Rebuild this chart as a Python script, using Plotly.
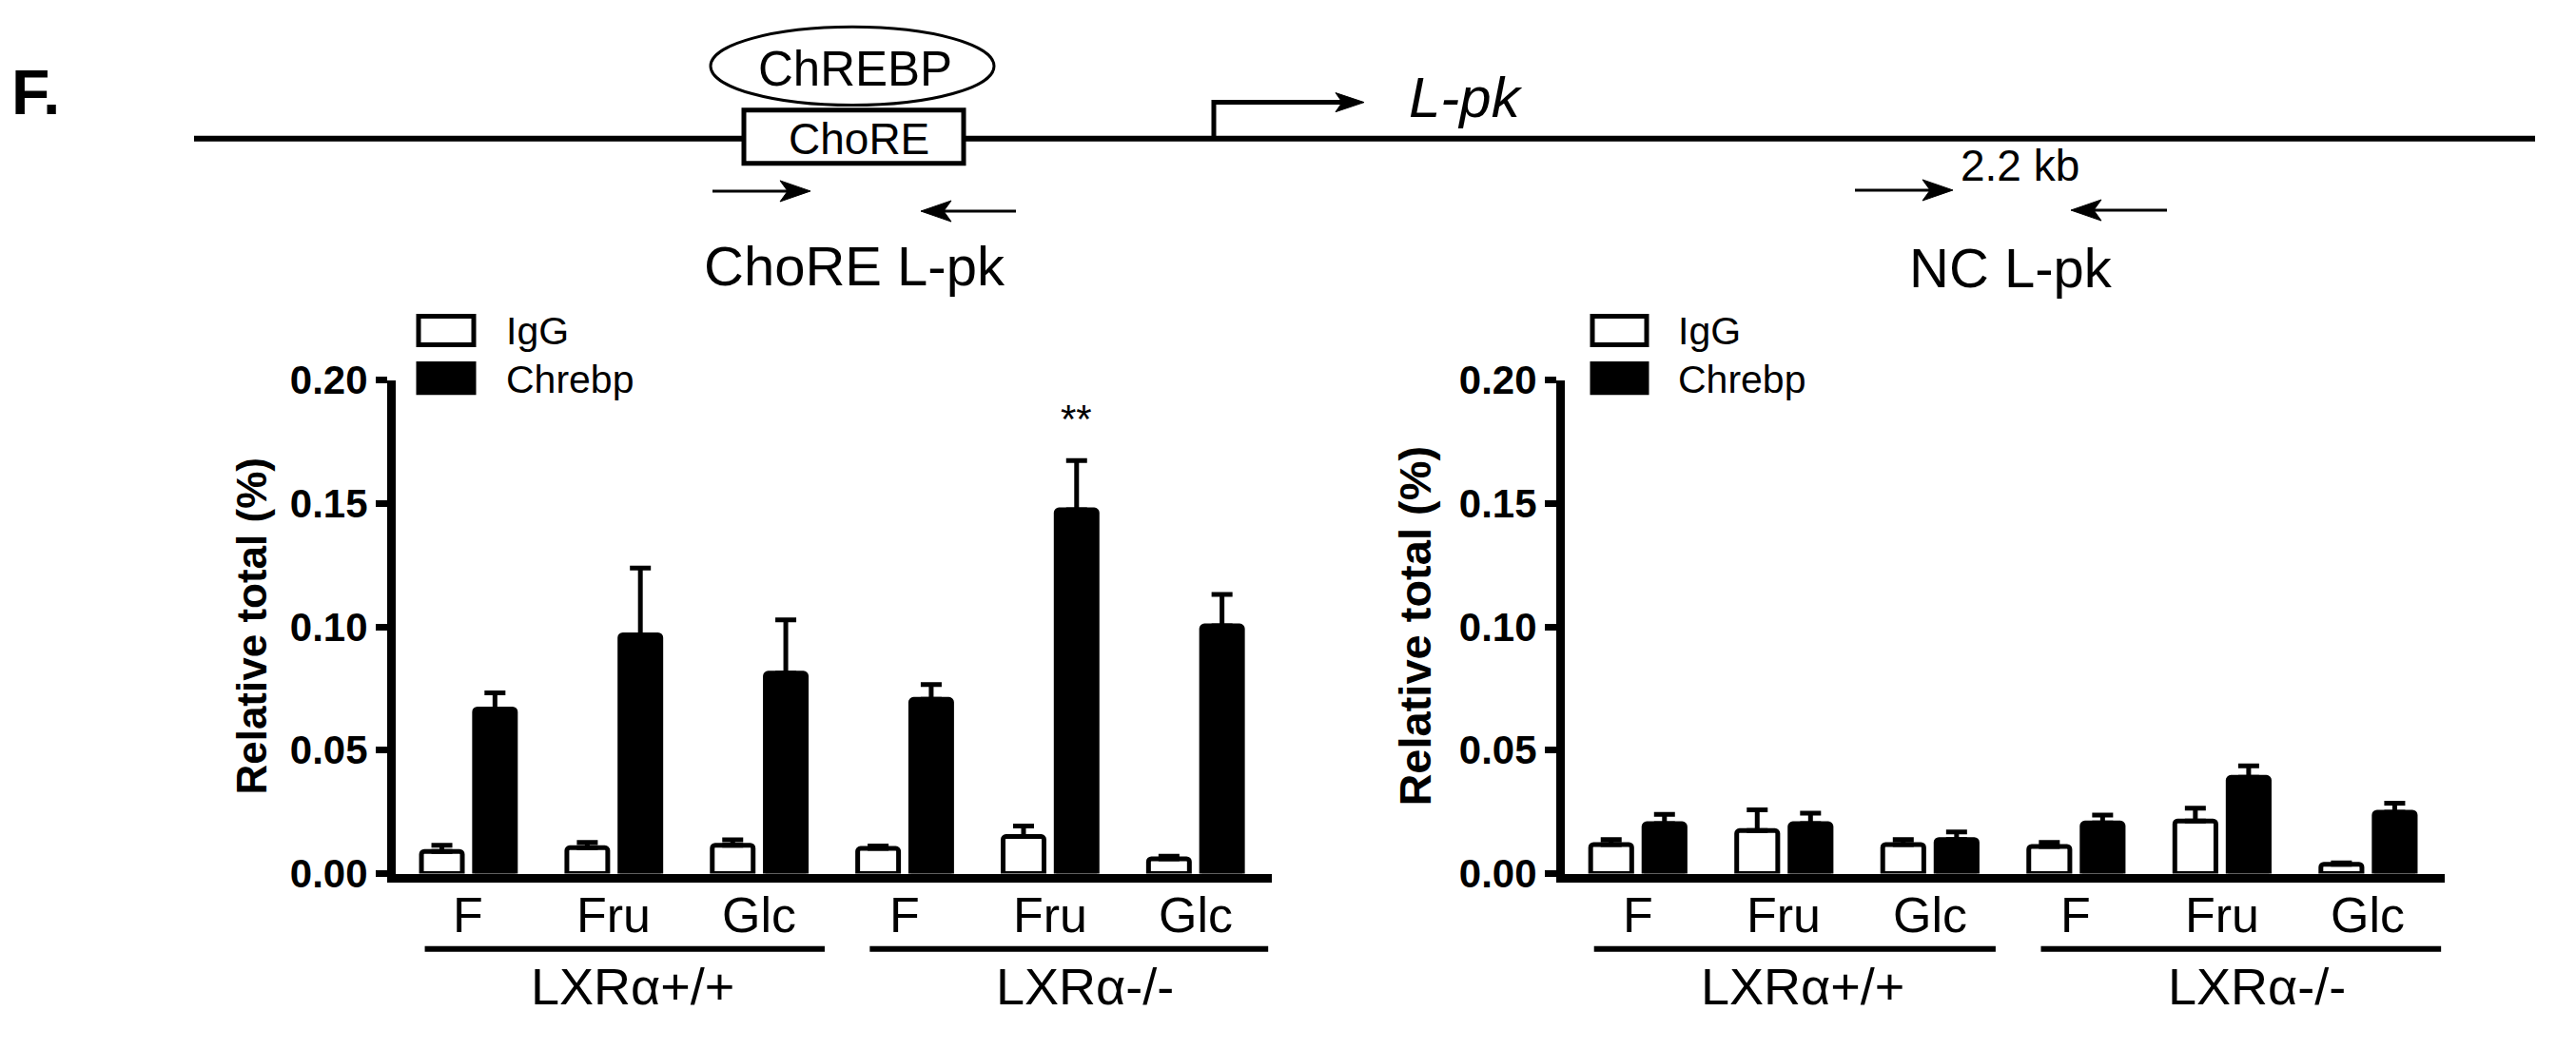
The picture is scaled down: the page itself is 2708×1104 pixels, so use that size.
import plotly.graph_objects as go

W, H = 2708, 1104

# ---------------- data ----------------
sugars = ["F", "Fru", "Glc", "F", "Fru", "Glc"]
genotypes = ["LXRα+/+", "LXRα-/-"]
series_names = ["IgG", "Chrebp"]
panel_titles = ["ChoRE L-pk", "NC L-pk"]
y_ticks = [0.00, 0.05, 0.10, 0.15, 0.20]

chore_igg = [0.0090, 0.0105, 0.0115, 0.0102, 0.0150, 0.0060]
chore_igg_err = [0.0025, 0.0021, 0.0022, 0.0010, 0.0043, 0.0010]
chore_chrebp = [0.0667, 0.0968, 0.0812, 0.0706, 0.1474, 0.1004]
chore_chrebp_err = [0.0065, 0.0270, 0.0216, 0.0060, 0.0200, 0.0127]

nc_igg = [0.0118, 0.0174, 0.0118, 0.0110, 0.0213, 0.0038]
nc_igg_err = [0.0020, 0.0084, 0.0020, 0.0016, 0.0052, 0.0005]
nc_chrebp = [0.0202, 0.0202, 0.0138, 0.0205, 0.0390, 0.0249]
nc_chrebp_err = [0.0038, 0.0043, 0.0031, 0.0032, 0.0047, 0.0036]

signif_text = "**"
signif_index = 4

# ---------------- helpers ----------------
FONT = "Liberation Sans, Arial, Helvetica, sans-serif"
# the photographed page comes out slightly squeezed vertically; compensate
SY, OY = 0.954, 22.7


def fx(p):
    return p / W


def fy(p):
    return 1 - ((p - OY) / SY) / H


fig = go.Figure()
xs = list(range(len(sugars)))

panels = [
    dict(xa="x", ya="y", igg=chore_igg, igge=chore_igg_err, ch=chore_chrebp, che=chore_chrebp_err),
    dict(xa="x2", ya="y2", igg=nc_igg, igge=nc_igg_err, ch=nc_chrebp, che=nc_chrebp_err),
]

for p in panels:
    fig.add_trace(go.Bar(
        x=xs, y=p["igg"], name=series_names[0], xaxis=p["xa"], yaxis=p["ya"],
        marker=dict(color="white", line=dict(color="black", width=5), cornerradius=3),
        error_y=dict(type="data", array=p["igge"], arrayminus=[0] * len(p["igge"]),
                     symmetric=False, color="black", thickness=5, width=11),
        showlegend=False))
    fig.add_trace(go.Bar(
        x=xs, y=p["ch"], name=series_names[1], xaxis=p["xa"], yaxis=p["ya"],
        marker=dict(color="black", line=dict(color="black", width=5), cornerradius=3),
        error_y=dict(type="data", array=p["che"], arrayminus=[0] * len(p["che"]),
                     symmetric=False, color="black", thickness=5, width=11),
        showlegend=False))

x_range = [-0.5, 5.525]
y_dom = [fy(915), fy(398)]

xaxis_common = dict(range=x_range, showline=True, linewidth=9, linecolor="black",
                    tickvals=xs, ticktext=sugars, ticks="", showticklabels=False,
                    showgrid=False, zeroline=False, fixedrange=True)
yaxis_common = dict(range=[0, 0.2], showline=True, linewidth=9, linecolor="black",
                    tickvals=y_ticks, tickformat=".2f", ticks="outside", ticklen=12, tickwidth=7,
                    tickcolor="black",
                    tickfont=dict(size=42, color="black", family=FONT, weight="bold"),
                    showgrid=False, zeroline=False, fixedrange=True, domain=y_dom)

fig.update_layout(
    width=W, height=H, margin=dict(l=0, r=0, t=0, b=0), autosize=False,
    paper_bgcolor="white", plot_bgcolor="white",
    barmode="group", bargap=0.27, bargroupgap=0.23,
    font=dict(family=FONT, color="black"),
    xaxis=dict(domain=[fx(416), fx(1337)], anchor="y", **xaxis_common),
    yaxis=dict(anchor="x", **yaxis_common),
    xaxis2=dict(domain=[fx(1645), fx(2570)], anchor="y2", **xaxis_common),
    yaxis2=dict(anchor="x2", **yaxis_common),
)

shapes = []
annos = []


def text(x, y, s, size, bold=False, italic=False, xanchor="center", angle=0, xref="paper"):
    """x: pixel (paper) or data value (axis ref); y: pixel from top."""
    annos.append(dict(x=fx(x) if xref == "paper" else x, y=fy(y), xref=xref, yref="paper",
                      text=s, showarrow=False,
                      xanchor=xanchor, yanchor="middle", textangle=angle,
                      font=dict(size=size, family=FONT, color="black",
                                weight="bold" if bold else "normal",
                                style="italic" if italic else "normal")))


def hline(x0, x1, y, w):
    shapes.append(dict(type="line", xref="paper", yref="paper", x0=fx(x0), x1=fx(x1),
                       y0=fy(y), y1=fy(y), line=dict(color="black", width=w)))


def arrow(tail, tip, y, lw=3, hl=32, hh=11, notch=8):
    d = 1 if tip > tail else -1
    base = tip - d * hl
    hline(tail, base + d * notch, y, lw)
    path = (f"M {fx(tip)},{fy(y)} L {fx(base)},{fy(y - hh)} "
            f"L {fx(base + d * notch)},{fy(y)} L {fx(base)},{fy(y + hh)} Z")
    shapes.append(dict(type="path", xref="paper", yref="paper", path=path,
                       fillcolor="black", line=dict(color="black", width=1)))


# ---- gene diagram ----
text(10, 96, "F.", 66, bold=True, xanchor="left")
hline(204, 2665, 145, 6)
shapes.append(dict(type="circle", xref="paper", yref="paper", x0=fx(747), x1=fx(1045),
                   y0=fy(110), y1=fy(28), line=dict(color="black", width=3), fillcolor="white"))
shapes.append(dict(type="rect", xref="paper", yref="paper", x0=fx(782), x1=fx(1013),
                   y0=fy(171), y1=fy(115), line=dict(color="black", width=5), fillcolor="white"))
text(899, 72, "ChREBP", 51)
text(903, 145, "ChoRE", 46)
# promoter
shapes.append(dict(type="path", xref="paper", yref="paper",
                   path=f"M {fx(1276)},{fy(145)} L {fx(1276)},{fy(107)} L {fx(1415)},{fy(107)}",
                   line=dict(color="black", width=5)))
shapes.append(dict(type="path", xref="paper", yref="paper",
                   path=(f"M {fx(1434)},{fy(107)} L {fx(1404)},{fy(97)} L {fx(1411)},{fy(107)} "
                         f"L {fx(1404)},{fy(117)} Z"),
                   fillcolor="black", line=dict(color="black", width=1)))
text(1541, 102, "L-pk", 60, italic=True)
# primers
arrow(749, 852, 200)
arrow(1068, 968, 221)
arrow(1950, 2053, 199)
arrow(2278, 2177, 220)
text(2123, 173, "2.2 kb", 46)
text(898, 278, panel_titles[0], 58)
text(2114, 280, panel_titles[1], 58)

# ---- legends ----
for (bx0, bx1, tx) in [(438, 500, 530), (1672, 1733, 1762)]:
    shapes.append(dict(type="rect", xref="paper", yref="paper", x0=fx(bx0 + 2), x1=fx(bx1 - 2),
                       y0=fy(361), y1=fy(331), line=dict(color="black", width=5), fillcolor="white"))
    shapes.append(dict(type="rect", xref="paper", yref="paper", x0=fx(bx0 + 2), x1=fx(bx1 - 2),
                       y0=fy(411), y1=fy(381), line=dict(color="black", width=5), fillcolor="black"))
    text(tx, 347, series_names[0], 41, xanchor="left")
    text(tx, 397, series_names[1], 41, xanchor="left")

# ---- y titles ----
text(265, 656, "Relative total (%)", 44, bold=True, angle=-90)
text(1488, 656, "Relative total (%)", 47, bold=True, angle=-90)

# ---- category labels, genotype underlines & labels ----
for xr in ["x", "x2"]:
    for i, s in zip(xs, sugars):
        text(i, 958, s, 52, xref=xr)
    for (a, b) in [(-0.30, 2.45), (2.76, 5.50)]:
        shapes.append(dict(type="line", xref=xr, yref="paper", x0=a, x1=b, y0=fy(994), y1=fy(994),
                           line=dict(color="black", width=6)))
    for gx, g in zip([1.13, 4.24], genotypes):
        text(gx, 1033, g, 54, xref=xr)

# ---- significance ----
bar_off = (1 - 0.27) / 4
annos.append(dict(x=signif_index + bar_off,
                  y=chore_chrebp[signif_index] + chore_chrebp_err[signif_index] + 0.017,
                  xref="x", yref="y", text=signif_text, showarrow=False,
                  xanchor="center", yanchor="middle", font=dict(size=42, family=FONT, color="black")))

fig.update_layout(shapes=shapes, annotations=annos)

fig.write_html("out.html", config={"displayModeBar": False, "staticPlot": True},
               post_script="document.body.style.margin='0px';document.body.style.overflow='hidden';")
